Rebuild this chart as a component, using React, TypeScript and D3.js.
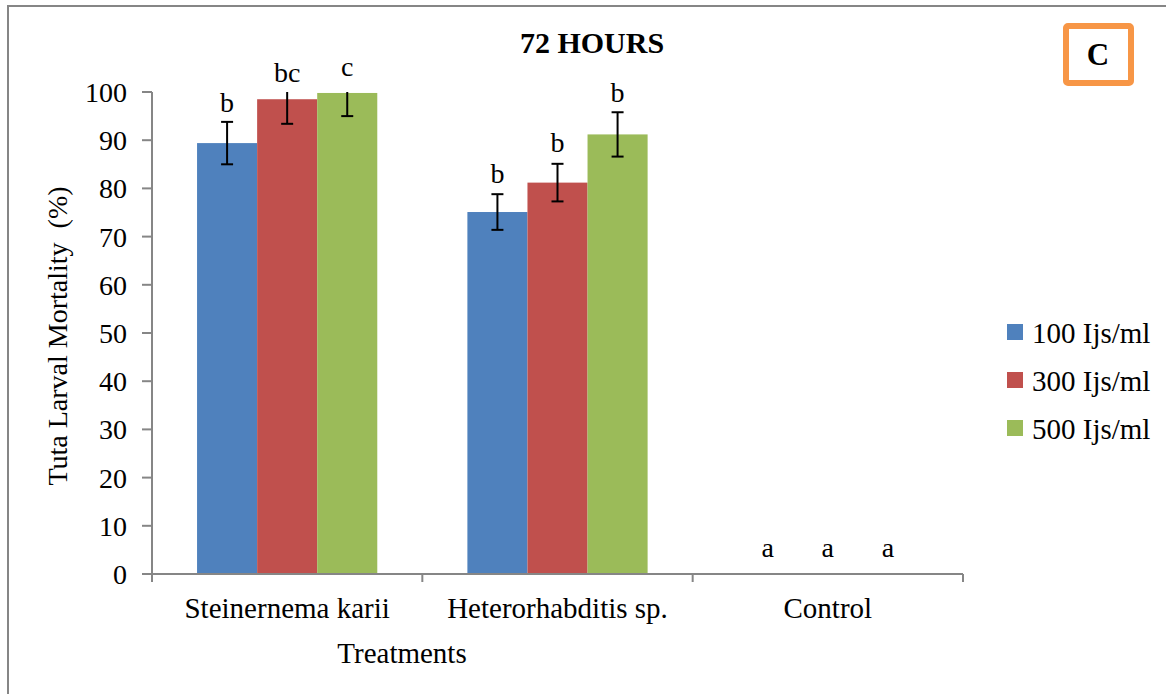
import React from "react";
import * as d3 from "d3";

// ---- data ----
const categories = ["Steinernema karii", "Heterorhabditis sp.", "Control"];
const seriesNames = ["100 Ijs/ml", "300 Ijs/ml", "500 Ijs/ml"];
const seriesColors = ["#4F81BD", "#C0504D", "#9BBB59"];

const mortality100 = [89.4, 75.1, 0];
const mortality300 = [98.5, 81.2, 0];
const mortality500 = [99.8, 91.2, 0];

const error100 = [4.4, 3.7, 0];
const error300 = [5.1, 3.9, 0];
const error500 = [4.8, 4.6, 0];

const letters100 = ["b", "b", "a"];
const letters300 = ["bc", "b", "a"];
const letters500 = ["c", "b", "a"];
// height (in % units) of the significance letters' baseline
const letterAt100 = [95.9, 81.1, 3.5];
const letterAt300 = [102.1, 87.6, 3.5];
const letterAt500 = [103.3, 97.9, 3.5];

const yTicks = [0, 10, 20, 30, 40, 50, 60, 70, 80, 90, 100];

const values = [mortality100, mortality300, mortality500];
const errors = [error100, error300, error500];
const letters = [letters100, letters300, letters500];
const letterAt = [letterAt100, letterAt300, letterAt500];

export default function App() {
  const width = 1166;
  const height = 694;
  const plot = { left: 152, right: 963, top: 92, bottom: 574 };
  const font = "'Liberation Serif', 'Times New Roman', serif";
  const axisColor = "#868686";

  const x0 = d3.scaleBand<string>()
    .domain(categories)
    .range([plot.left, plot.right])
    .padding(0);

  const x1 = d3.scaleBand<string>()
    .domain(seriesNames)
    .range([0, x0.bandwidth()])
    .paddingInner(0)
    .paddingOuter(0.75);

  const y = d3.scaleLinear().domain([0, 100]).range([plot.bottom, plot.top]);

  const catEdges = [...categories.map(c => x0(c)!), plot.right];

  return (
    <svg
      width={width}
      height={height}
      style={{ position: "absolute", left: 0, top: 0, background: "#fff" }}
      fontFamily={font}
    >
      <defs>
        <clipPath id="plotClip">
          <rect x={plot.left} y={plot.top} width={plot.right - plot.left} height={plot.bottom - plot.top} />
        </clipPath>
      </defs>

      {/* chart area border (runs off the picture on right/bottom) */}
      <rect x={8} y={6} width={1400} height={1000} fill="none" stroke={axisColor} strokeWidth={2} />

      {/* title */}
      <text x={592} y={53} textAnchor="middle" fontSize={30} fontWeight="bold">72 HOURS</text>

      {/* panel letter */}
      <rect x={1066} y={26} width={65} height={57} rx={2} fill="#fff" stroke="#F79646" strokeWidth={6} />
      <text x={1098} y={65} textAnchor="middle" fontSize={31} fontWeight="bold">C</text>

      {/* bars */}
      {seriesNames.map((s, si) => (
        <g key={s} fill={seriesColors[si]}>
          {categories.map((c, ci) => {
            const v = values[si][ci];
            return (
              <rect
                key={c}
                x={x0(c)! + x1(s)!}
                y={y(v)}
                width={x1.bandwidth()}
                height={y(0) - y(v)}
              />
            );
          })}
        </g>
      ))}

      {/* error bars */}
      <g clipPath="url(#plotClip)" stroke="#000" strokeWidth={2}>
        {seriesNames.map((s, si) =>
          categories.map((c, ci) => {
            const e = errors[si][ci];
            if (!e) return null;
            const v = values[si][ci];
            const cx = x0(c)! + x1(s)! + x1.bandwidth() / 2;
            return (
              <g key={s + c}>
                <line x1={cx} x2={cx} y1={y(v + e)} y2={y(v - e)} />
                <line x1={cx - 6} x2={cx + 6} y1={y(v + e)} y2={y(v + e)} />
                <line x1={cx - 6} x2={cx + 6} y1={y(v - e)} y2={y(v - e)} />
              </g>
            );
          })
        )}
      </g>

      {/* significance letters */}
      {seriesNames.map((s, si) =>
        categories.map((c, ci) => (
          <text
            key={s + c}
            x={x0(c)! + x1(s)! + x1.bandwidth() / 2}
            y={y(letterAt[si][ci])}
            textAnchor="middle"
            fontSize={28}
          >
            {letters[si][ci]}
          </text>
        ))
      )}

      {/* y axis */}
      <line x1={plot.left} x2={plot.left} y1={plot.top} y2={plot.bottom} stroke={axisColor} strokeWidth={2} />
      {yTicks.map(t => (
        <g key={t} transform={`translate(${plot.left},${y(t)})`}>
          <line x1={-10} x2={0} stroke={axisColor} strokeWidth={2} />
          <text x={-25} y={10} textAnchor="end" fontSize={28}>{t}</text>
        </g>
      ))}
      <text
        transform={`translate(67,336) rotate(-90)`}
        textAnchor="middle"
        fontSize={28}
        style={{ whiteSpace: "pre" }}
      >
        {"Tuta Larval Mortality  (%)"}
      </text>

      {/* x axis */}
      <line x1={plot.left - 10} x2={plot.right} y1={plot.bottom} y2={plot.bottom} stroke={axisColor} strokeWidth={2} />
      {catEdges.map((e, i) => (
        <line key={i} x1={e} x2={e} y1={plot.bottom} y2={plot.bottom + 8} stroke={axisColor} strokeWidth={2} />
      ))}
      {categories.map(c => (
        <text key={c} x={x0(c)! + x0.bandwidth() / 2} y={618} textAnchor="middle" fontSize={29}>{c}</text>
      ))}
      <text x={402} y={663} textAnchor="middle" fontSize={29}>Treatments</text>

      {/* legend */}
      {seriesNames.map((s, i) => (
        <g key={s} transform={`translate(1007,${324 + i * 48})`}>
          <rect width={16} height={16} fill={seriesColors[i]} />
          <text x={25} y={19} fontSize={29}>{s}</text>
        </g>
      ))}
    </svg>
  );
}
